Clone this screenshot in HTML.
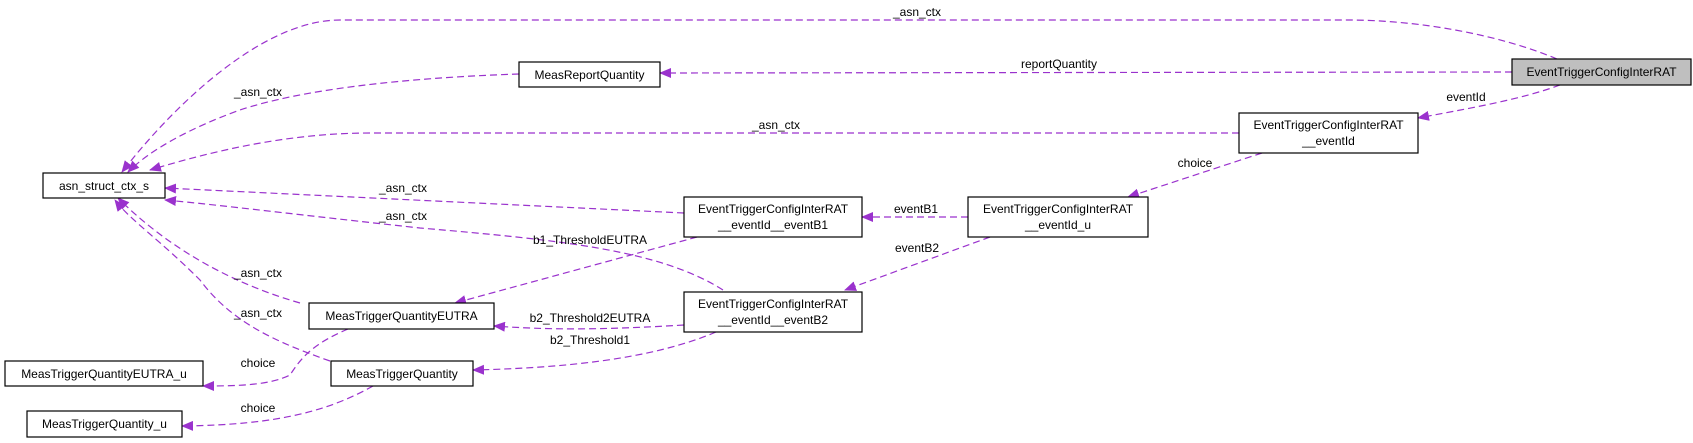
<!DOCTYPE html>
<html><head><meta charset="utf-8"><style>
html,body{margin:0;padding:0;background:#fff;}
svg{display:block;}
text{font-family:"Liberation Sans",Arial,sans-serif;font-size:12px;fill:#000;}
.e{fill:none;stroke:#9a32cd;stroke-width:1.2;stroke-dasharray:7,4;}
.n{fill:#fff;stroke:#000;stroke-width:1.2;}
</style></head><body>
<svg width="1693" height="443" viewBox="0 0 1693 443" xmlns="http://www.w3.org/2000/svg">
<defs>
<marker id="a" markerWidth="12" markerHeight="10" refX="11" refY="5" orient="auto" markerUnits="userSpaceOnUse">
<path d="M0,0 L12,5 L0,10 z" fill="#9a32cd"/>
</marker>
</defs>
<!-- edges -->
<path class="e" marker-end="url(#a)" d="M1557,59 C1500,35 1420,20 1347,20 L340,20 C260,20 170,110 122,172"/>
<path class="e" marker-end="url(#a)" d="M1512,72 L660,73"/>
<path class="e" marker-end="url(#a)" d="M1560,85 C1520,100 1460,110 1418,118"/>
<path class="e" marker-end="url(#a)" d="M1239,133 L370,133 C280,133 200,155 150,170"/>
<path class="e" marker-end="url(#a)" d="M519,74 C400,78 300,90 240,110 C190,128 150,150 128,172"/>
<path class="e" marker-end="url(#a)" d="M1262,153 L1128,197"/>
<path class="e" marker-end="url(#a)" d="M968,217 L862,217"/>
<path class="e" marker-end="url(#a)" d="M990,237 L845,290"/>
<path class="e" marker-end="url(#a)" d="M684,213 L165,188"/>
<path class="e" marker-end="url(#a)" d="M723,290 C660,250 560,240 420,228 C300,215 220,205 165,200"/>
<path class="e" marker-end="url(#a)" d="M697,237 L455,303"/>
<path class="e" marker-end="url(#a)" d="M684,325 C600,330 550,330 494,326"/>
<path class="e" marker-end="url(#a)" d="M716,332 C650,360 560,368 473,370"/>
<path class="e" marker-end="url(#a)" d="M300,303 C220,280 160,240 118,198"/>
<path class="e" marker-end="url(#a)" d="M330,361 C270,340 230,320 200,280 C160,240 130,220 115,200"/>
<path class="e" marker-end="url(#a)" d="M348,329 C310,345 300,360 290,375 C270,385 240,386 203,386"/>
<path class="e" marker-end="url(#a)" d="M373,386 C330,410 280,425 182,426"/>
<!-- nodes -->
<rect class="n" x="43" y="173" width="122" height="25"/>
<text x="104" y="190" text-anchor="middle">asn_struct_ctx_s</text>
<rect class="n" x="519" y="62" width="141" height="25"/>
<text x="589.5" y="79" text-anchor="middle">MeasReportQuantity</text>
<rect x="1512" y="59" width="179" height="26" fill="#bfbfbf" stroke="#000" stroke-width="1.2"/>
<text x="1601.5" y="76" text-anchor="middle">EventTriggerConfigInterRAT</text>
<rect class="n" x="1239" y="113" width="179" height="40"/>
<text x="1328.5" y="129" text-anchor="middle">EventTriggerConfigInterRAT</text>
<text x="1328.5" y="145" text-anchor="middle">__eventId</text>
<rect class="n" x="968" y="197" width="180" height="40"/>
<text x="1058" y="213" text-anchor="middle">EventTriggerConfigInterRAT</text>
<text x="1058" y="229" text-anchor="middle">__eventId_u</text>
<rect class="n" x="684" y="197" width="178" height="40"/>
<text x="773" y="213" text-anchor="middle">EventTriggerConfigInterRAT</text>
<text x="773" y="229" text-anchor="middle">__eventId__eventB1</text>
<rect class="n" x="684" y="292" width="178" height="40"/>
<text x="773" y="308" text-anchor="middle">EventTriggerConfigInterRAT</text>
<text x="773" y="324" text-anchor="middle">__eventId__eventB2</text>
<rect class="n" x="309" y="303" width="185" height="26"/>
<text x="401.5" y="320" text-anchor="middle">MeasTriggerQuantityEUTRA</text>
<rect class="n" x="5" y="361" width="198" height="25"/>
<text x="104" y="378" text-anchor="middle">MeasTriggerQuantityEUTRA_u</text>
<rect class="n" x="331" y="361" width="142" height="25"/>
<text x="402" y="378" text-anchor="middle">MeasTriggerQuantity</text>
<rect class="n" x="27" y="411" width="155" height="26"/>
<text x="104.5" y="428" text-anchor="middle">MeasTriggerQuantity_u</text>
<!-- labels -->
<text x="917" y="16" text-anchor="middle">_asn_ctx</text>
<text x="1059" y="68" text-anchor="middle">reportQuantity</text>
<text x="1466" y="101" text-anchor="middle">eventId</text>
<text x="1195" y="167" text-anchor="middle">choice</text>
<text x="916" y="213" text-anchor="middle">eventB1</text>
<text x="917" y="252" text-anchor="middle">eventB2</text>
<text x="258" y="96" text-anchor="middle">_asn_ctx</text>
<text x="776" y="129" text-anchor="middle">_asn_ctx</text>
<text x="403" y="192" text-anchor="middle">_asn_ctx</text>
<text x="403" y="220" text-anchor="middle">_asn_ctx</text>
<text x="590" y="244" text-anchor="middle">b1_ThresholdEUTRA</text>
<text x="258" y="277" text-anchor="middle">_asn_ctx</text>
<text x="258" y="317" text-anchor="middle">_asn_ctx</text>
<text x="590" y="322" text-anchor="middle">b2_Threshold2EUTRA</text>
<text x="590" y="344" text-anchor="middle">b2_Threshold1</text>
<text x="258" y="367" text-anchor="middle">choice</text>
<text x="258" y="412" text-anchor="middle">choice</text>
</svg>
</body></html>
